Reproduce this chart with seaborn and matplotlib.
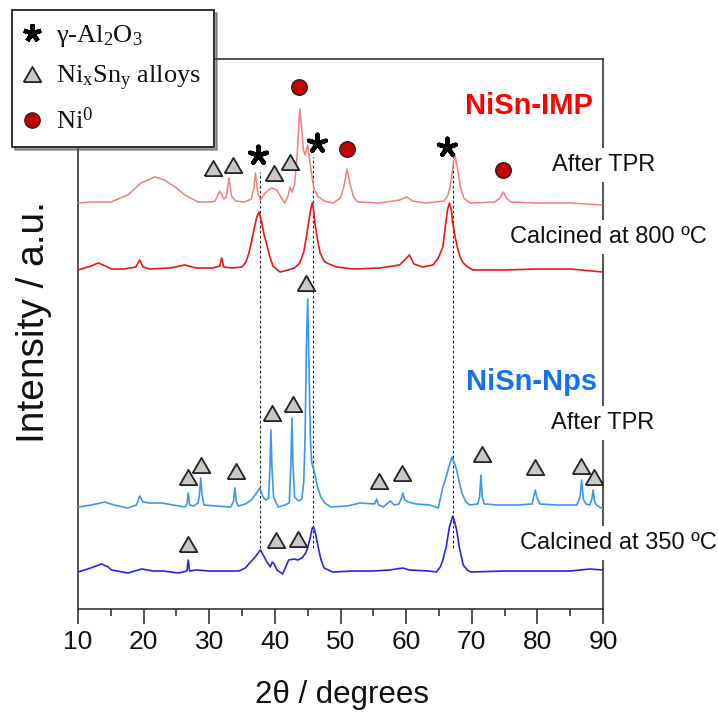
import matplotlib
matplotlib.use("Agg")
import matplotlib.pyplot as plt
import seaborn as sns
import pandas as pd
from matplotlib.lines import Line2D

# ---------------- data ----------------
x_ticks = [10, 20, 30, 40, 50, 60, 70, 80, 90]
sample_labels = ["After TPR", "Calcined at 800 ºC", "After TPR", "Calcined at 350 ºC"]
group_labels = ["NiSn-IMP", "NiSn-Nps"]

imp_tpr_theta = [10, 12, 15, 17.6, 19.6, 21.7, 23.2, 24.8, 26.3, 28.3, 30.3, 30.9, 31.6, 32.2, 32.6, 33.0, 33.4,
                 34.0, 35.4, 36.4, 36.8, 37.05, 37.4, 37.8, 38.5, 39.5, 40.3, 40.9, 41.5, 42.0, 42.3, 42.6, 43.0,
                 43.4, 43.8, 44.1, 44.35, 44.6, 45.0, 45.4, 45.9, 46.5, 47.5, 48.9, 50.0, 50.5, 51.0, 51.5, 52.0,
                 52.6, 56, 59, 60.1, 61, 63, 65.8, 66.3, 66.7, 67.0, 67.4, 67.8, 68.3, 68.8, 69.7, 73.5, 74.3,
                 74.8, 75.4, 76.0, 80, 85, 90]
imp_tpr_int = [0, 1, 1, 8, 20, 26, 23, 16, 8, 1, 1, 2, 12, 4, 6, 25, 7,
               2, 1, 4, 15, 30, 10, 3, 10, 15, 13, 6, 0, 7, 16, 11, 18,
               48, 94, 73, 53, 48, 58, 38, 16, 7, 2, 0, 5, 16, 34, 18, 6,
               1, 0, 3, 6, 2, 0, 2, 7, 16, 30, 49, 35, 15, 5, 0, 1, 5,
               11, 4, 1, 0, 0, -2]

imp_cal_theta = [10, 12, 13.1, 14.2, 15.1, 17, 18.8, 19.4, 19.9, 21, 24, 26.3, 28, 30.5, 31.6, 31.9, 32.2, 33.5,
                 35.0, 35.6, 36.0, 36.4, 36.8, 37.2, 37.6, 38.0, 38.4, 38.7, 39.2, 39.7, 40.8, 42, 43.0, 43.8,
                 44.4, 44.8, 45.2, 45.5, 45.7, 45.9, 46.1, 46.5, 46.9, 47.5, 47.9, 49.4, 52, 56, 59, 60.5, 61.2,
                 62.5, 64.1, 64.9, 65.6, 66.0, 66.3, 66.6, 66.9, 67.1, 67.5, 67.9, 68.3, 68.7, 69.4, 70.2, 75,
                 80, 85, 90]
imp_cal_int = [0, 4, 7, 4, 1, 1, 3, 10, 3, 1, 2, 5, 2, 2, 4, 12, 3, 2,
               3, 8, 16, 27, 40, 52, 58, 47, 34, 27, 14, 4, -2, 0, 2, 7,
               18, 33, 50, 62, 67, 60, 47, 30, 17, 9, 7, 3, 1, 2, 5, 15, 6,
               3, 5, 12, 23, 45, 60, 67, 60, 47, 32, 20, 12, 7, 3, 0, 0,
               1, 1, -2]

nps_tpr_theta = [10, 12, 14.1, 15.5, 17.6, 18.9, 19.4, 19.9, 21, 22.7, 24.5, 26.3, 26.6, 26.8, 27.0, 27.6, 28.3,
                 28.5, 28.7, 28.9, 29.2, 31, 33.3, 33.7, 33.9, 34.1, 34.4, 35.5, 36.4, 37.2, 37.7, 38.2, 38.6,
                 39.05, 39.25, 39.4, 39.55, 39.8, 40.5, 41.5, 42.2, 42.45, 42.6, 42.75, 43.0, 43.6, 44.1, 44.4,
                 44.6, 44.8, 45.0, 45.2, 45.4, 45.6, 45.8, 46.1, 46.5, 47.0, 47.6, 48.5, 51, 53.0, 55.2, 55.5,
                 55.8, 56.5, 57.6, 58.2, 58.9, 59.3, 59.5, 59.8, 60.3, 61.5, 63.6, 64.9, 65.6, 66.1, 66.5, 67.0,
                 67.3, 67.7, 68.1, 68.5, 69.1, 69.7, 70.9, 71.2, 71.4, 71.6, 71.9, 74, 77, 79.2, 79.5, 79.7,
                 79.9, 80.4, 83, 86.0, 86.5, 86.75, 87.0, 87.4, 88.0, 88.3, 88.5, 88.7, 89.0, 90]
nps_tpr_int = [0, 2, 5, 2, -1, 2, 11, 5, 4, 4, 2, 0, 3, 14, 2, 1, 4,
               12, 29, 12, 2, 1, 0, 6, 19, 6, 1, 3, 7, 14, 19, 10, 7,
               9, 40, 77, 40, 10, 0, 2, 4, 45, 89, 45, 10, 6, 8, 25,
               70, 160, 208, 140, 70, 45, 40, 33, 20, 10, 4, 0, 1, 4, 3, 8,
               2, 0, 6, 2, 3, 9, 14, 7, 5, 3, 2, -1, 20, 30, 40, 50,
               45, 37, 25, 14, 5, 2, 3, 10, 32, 10, 3, 2, 2, 3, 12, 17,
               10, 3, 2, 2, 10, 27, 8, 3, 2, 8, 17, 6, 2, -2]

nps_cal_theta = [10, 11.5, 13.6, 14.6, 15.1, 17.6, 19.7, 21.5, 23, 25.3, 26.6, 26.8, 27.0, 28, 30, 32, 34.5, 35.5,
                 36.3, 37.0, 37.8, 38.3, 38.8, 39.3, 39.6, 39.9, 40.3, 41.2, 41.7, 42.1, 42.9, 43.5, 44.1, 44.6,
                 44.9, 45.3, 45.7, 45.9, 46.2, 46.6, 47.0, 47.5, 48.8, 52, 55, 57.5, 59.5, 60.5, 63.5, 64.6, 65.2,
                 65.6, 66.1, 66.6, 67.1, 67.4, 67.7, 68.1, 68.7, 69.3, 69.9, 75, 80, 85, 88, 90]
nps_cal_int = [0, 3, 8, 5, 2, -1, 3, 1, 1, -1, 1, 12, 1, 2, 1, 1, 1, 4,
               10, 15, 22, 16, 10, 5, 10, 8, 2, -2, 6, 12, 13, 12, 14, 18,
               22, 32, 44, 45, 38, 25, 13, 4, 0, 1, 1, 2, 4, 2, 1, 0, 5,
               12, 25, 45, 56, 50, 42, 25, 7, 2, 0, 1, 1, 1, 3, 2]

# reference peaks (gamma-Al2O3 guide lines)
alumina_lines = [37.7, 45.8, 67.2]
alumina_star_theta = [37.4, 46.4, 66.2]

# marker annotations (theta, height)
star_y = [454, 466, 462]
tri_theta = [30.5, 33.6, 39.8, 42.3,
             26.8, 28.8, 34.0, 39.5, 42.8, 44.8, 55.8, 59.4, 71.5, 79.7, 86.6, 88.6,
             26.7, 40.1, 43.5]
tri_y = [441, 444, 436, 447,
         132, 144, 138, 196, 205, 326, 128, 136, 155, 142, 143, 132,
         65, 69, 70]
ni_theta = [43.7, 51.0, 74.8]
ni_y = [522, 460, 439]

# ---------------- style ----------------
sns.set_theme(style="white")
plt.rcParams["font.family"] = ["Liberation Sans", "DejaVu Sans"]
plt.rcParams["mathtext.fontset"] = "custom"
plt.rcParams["mathtext.rm"] = "Liberation Serif"
plt.rcParams["mathtext.it"] = "Liberation Serif:italic"
plt.rcParams["mathtext.bf"] = "Liberation Serif:bold"
plt.rcParams["text.color"] = "#111111"
plt.rcParams["axes.labelcolor"] = "#111111"
plt.rcParams["xtick.color"] = "#111111"

W = 718.0
fig = plt.figure(figsize=(7.18, 7.18), dpi=100)
ax = fig.add_axes([78 / W, 109 / W, 525 / W, 550 / W])

curves = [
    (imp_tpr_theta, imp_tpr_int, 406, "#f77c7c", 1.1),
    (imp_cal_theta, imp_cal_int, 339, "#f01414", 1.2),
    (nps_tpr_theta, nps_tpr_int, 102, "#3a96f2", 1.2),
    (nps_cal_theta, nps_cal_int, 37, "#2626e0", 1.2),
]
for th, it, off, col, lw in curves:
    df = pd.DataFrame({"theta": th, "y": [v + off for v in it]})
    sns.lineplot(data=df, x="theta", y="y", color=col, lw=lw, ax=ax, estimator=None, sort=False, zorder=3)

# dashed guide lines
guide_bottom = 61
guide_tops = [437, 452, 454]
for xv, top in zip(alumina_lines, guide_tops):
    ax.plot([xv, xv], [guide_bottom, top], color="#222222", lw=0.8, ls=(0, (2.5, 2)), zorder=2)

tri_verts = [(-1, -0.866), (1, -0.866), (0, 0.866), (-1, -0.866)]
ax.scatter(alumina_star_theta, star_y, marker=(5, 2, 0), s=160, color="black", linewidths=3.2, zorder=5)
ax.scatter(tri_theta, tri_y, marker=tri_verts, s=160, facecolor="#c8c8c8", edgecolor="#222222",
           linewidths=1.3, zorder=5)
ax.scatter(ni_theta, ni_y, marker="o", s=125, facecolor="#c40000", edgecolor="#222222",
           linewidths=1.0, zorder=5)

ax.set_xlim(10, 90)
ax.set_ylim(0, 550)
ax.set_xticks(x_ticks)
ax.set_xticklabels([str(t) for t in x_ticks])
ax.set_xticks(range(15, 90, 10), minor=True)
ax.set_yticks([])
ax.tick_params(axis="x", which="major", direction="out", length=11, width=1.2, color="#333333",
               labelsize=19, labelcolor="#111111", pad=4, bottom=True)
ax.tick_params(axis="x", which="minor", direction="out", length=5, width=1.2, color="#333333", bottom=True)
for sp in ax.spines.values():
    sp.set_visible(True)
    sp.set_linewidth(1.2)
    sp.set_color("#333333")

ax.set_xlabel("2θ / degrees", fontsize=22.5, color="#111111")
ax.xaxis.set_label_coords(0.503, (609 - 695) / 550)
ax.xaxis.label.set_va("center")
ax.set_ylabel("Intensity / a.u.", fontsize=28, color="#111111")
ax.yaxis.set_label_coords((34 - 78) / 525, (609 - 322) / 550)
ax.yaxis.label.set_va("center")

def fx(p):
    return p / W

def fy(p):
    return 1 - p / W

fig.text(fx(593), fy(106), group_labels[0], color="#ff0000", fontsize=21, fontweight="bold",
         ha="right", va="center")
fig.text(fx(597), fy(382), group_labels[1], color="#1570f0", fontsize=21, fontweight="bold",
         ha="right", va="center")
box = dict(boxstyle="square,pad=0.25", facecolor="white", edgecolor="none")
for lab, px, py in zip(sample_labels, [552, 510, 551, 520], [165, 237, 423, 543]):
    fig.text(fx(px), fy(py), lab, color="#111111", fontsize=17, ha="left", va="center", bbox=box)

handles = [
    Line2D([], [], ls="none", marker=(5, 2, 0), color="black", ms=13, mew=3.2),
    Line2D([], [], ls="none", marker=tri_verts, ms=12.6, mfc="#c8c8c8", mec="#222222", mew=1.3),
    Line2D([], [], ls="none", marker="o", ms=11, mfc="#c40000", mec="#222222", mew=1.0),
]
leg_labels = ["γ-Al$_2$O$_3$", "Ni$_\\mathrm{x}$Sn$_\\mathrm{y}$ alloys", "Ni$^0$"]
leg = fig.legend(handles, leg_labels, loc="upper left", bbox_to_anchor=(fx(12), fy(10)),
                 prop={"family": "Liberation Serif", "size": 19}, frameon=True, fancybox=False,
                 shadow=True, borderpad=0.5, handlelength=0.5, handletextpad=0.65,
                 labelspacing=0.55, borderaxespad=0)
leg.get_frame().set_edgecolor("#222222")
leg.get_frame().set_linewidth(1.3)
for t in leg.get_texts():
    t.set_color("#111111")
leg.set_zorder(10)

fig.savefig("out.png", dpi=100)
